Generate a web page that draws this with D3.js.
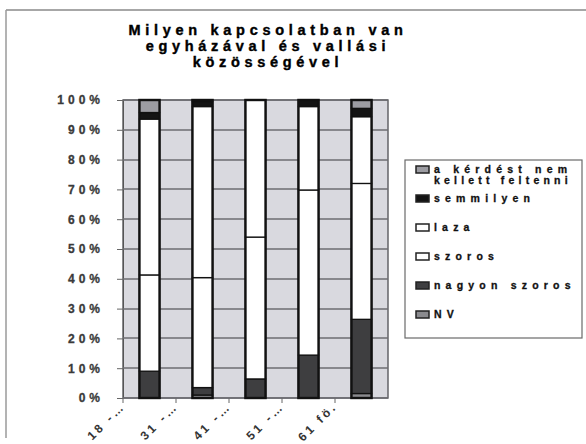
<!DOCTYPE html>
<html>
<head>
<meta charset="utf-8">
<script src="https://cdn.jsdelivr.net/npm/d3@7"></script>
<style>
  body { margin: 0; background: #fff; }
  text { font-family: "Liberation Sans", Arial, sans-serif; font-weight: bold; }
</style>
</head>
<body>
<svg id="sketch"></svg>
<script>
// age groups (labels are cut off in the original scan)
var categories = ["18 -…", "31 -…", "41 -…", "51 -…", "61 fö."];

// stacked series, bottom to top, in percent
var nv           = [0,    1,    0,    0,    1.5];
var nagyonSzoros = [9,    2.5,  6.4,  14.4, 24.9];
var szoros       = [32.3, 36.9, 47.6, 55.4, 45.6];
var laza         = [52.3, 57.4, 46,   28,   22.4];
var semmilyen    = [2.2,  1.7,  0,    2.2,  2.8];
var kerdes       = [4.2,  0.5,  0,    0,    2.8];

var seriesNames = ["NV", "nagyon szoros", "szoros", "laza", "semmilyen", "a kérdést nem kellett feltenni"];
var seriesValues = [nv, nagyonSzoros, szoros, laza, semmilyen, kerdes];
var seriesColors = ["#8a8a8e", "#3e3e40", "#ffffff", "#ffffff", "#141414", "#9c9ca2"];

var yTicks = [0, 10, 20, 30, 40, 50, 60, 70, 80, 90, 100];

var titleLines = ["Milyen kapcsolatban van", "egyházával és vallási", "közösségével"];

var svg = d3.select("#sketch").attr("width", 586).attr("height", 444);

// outer frame (only top and left survive in the scan)
svg.append("line").attr("x1", 6).attr("y1", 10).attr("x2", 586).attr("y2", 10)
    .attr("stroke", "#8a8a8a").attr("stroke-width", 1.5);
svg.append("line").attr("x1", 6).attr("y1", 10).attr("x2", 6).attr("y2", 438)
    .attr("stroke", "#9a9a9a").attr("stroke-width", 1.5);

// title
svg.append("g").selectAll("text")
    .data(titleLines)
    .enter().append("text")
    .attr("x", 268)
    .attr("y", function(d, i) { return 35 + i * 16; })
    .attr("text-anchor", "middle")
    .style("font-size", "14.5px")
    .style("letter-spacing", "4.7px")
    .style("stroke", "#000")
    .style("stroke-width", "0.4px")
    .text(function(d) { return d; });

var x = d3.scaleBand().domain(categories).range([123, 388]).paddingInner(0.62).paddingOuter(0.31);
var y = d3.scaleLinear().domain([0, 100]).range([398, 100]);

// plot area
svg.append("rect")
    .attr("x", 123).attr("y", 100).attr("width", 265).attr("height", 298)
    .attr("fill", "#d9d9df")
    .attr("stroke", "#5a5a5e").attr("stroke-width", 1.4);

// y axis
var yAxis = svg.append("g")
    .attr("transform", "translate(123,0)")
    .call(d3.axisLeft(y).tickValues(yTicks).tickSize(6).tickPadding(13)
        .tickFormat(function(d) { return d + "%"; }));
yAxis.select(".domain").attr("stroke", "#555");
yAxis.selectAll("line").attr("stroke", "#666");
yAxis.selectAll("text")
    .style("font-size", "12px")
    .style("letter-spacing", "4px")
    .style("stroke", "#3a3a3a")
    .style("stroke-width", "0.3px")
    .attr("fill", "#3a3a3a")
    .attr("font-family", null);

// x axis: ticks between categories
var gap = (x.step() - x.bandwidth()) / 2;
var xAxis = svg.append("g").attr("class", "xaxis");
xAxis.selectAll("line.xtick")
    .data(categories)
    .enter().append("line")
    .attr("class", "xtick")
    .attr("x1", function(d) { return x(d) - gap; })
    .attr("x2", function(d) { return x(d) - gap; })
    .attr("y1", 398).attr("y2", 403)
    .attr("stroke", "#666");
xAxis.selectAll("text")
    .data(categories)
    .enter().append("text")
    .attr("transform", function(d) { return "translate(" + (x(d) - gap + 3) + ",407) rotate(-45)"; })
    .attr("text-anchor", "end")
    .style("font-size", "12px")
    .style("letter-spacing", "3px")
    .attr("fill", "#333")
    .text(function(d) { return d; });

// legend
var legend = svg.append("g").attr("class", "legend");
legend.append("rect")
    .attr("x", 405).attr("y", 160).attr("width", 177).attr("height", 178)
    .attr("fill", "#fff").attr("stroke", "#6a6a6a").attr("stroke-width", 1.2);

var legendOrder = seriesNames.map(function(s, i) { return i; }).reverse();
var legendY = [173, 202, 231, 260, 289, 318];

var item = legend.selectAll("g.item")
    .data(legendOrder)
    .enter().append("g")
    .attr("class", "item")
    .attr("transform", function(d, i) { return "translate(416," + legendY[i] + ")"; });

item.append("rect")
    .attr("x", 0).attr("y", -7).attr("width", 13).attr("height", 7)
    .attr("fill", function(d) { return seriesColors[d]; })
    .attr("stroke", "#222").attr("stroke-width", 1.5);

item.each(function(d) {
    var name = seriesNames[d];
    var lines = name === "a kérdést nem kellett feltenni" ? ["a kérdést nem", "kellett feltenni"] : [name];
    d3.select(this).selectAll("text")
        .data(lines)
        .enter().append("text")
        .attr("x", 18)
        .attr("y", function(l, k) { return k * 10.5; })
        .style("font-size", "10.5px")
        .style("letter-spacing", function(l) { return l === "kellett feltenni" ? "4.2px" : "5.2px"; })
        .style("stroke", "#111")
        .style("stroke-width", "0.3px")
        .attr("fill", "#111")
        .text(function(l) { return l; });
});

// gridlines, drawn under the bars only
svg.append("g").attr("class", "grid").selectAll("line")
    .data(yTicks)
    .enter().append("line")
    .attr("x1", 123).attr("x2", 388)
    .attr("y1", function(d) { return Math.round(y(d)); })
    .attr("y2", function(d) { return Math.round(y(d)); })
    .attr("stroke", "#6c6c72").attr("stroke-width", 1.6);

// stacked bars
var rows = categories.map(function(c, i) {
    var r = { cat: c };
    seriesNames.forEach(function(s, j) { r[s] = seriesValues[j][i]; });
    return r;
});
var stacked = d3.stack().keys(seriesNames)(rows);

svg.append("g").attr("class", "bars").selectAll("g")
    .data(stacked)
    .enter().append("g")
    .attr("fill", function(d, i) { return seriesColors[i]; })
    .selectAll("rect")
    .data(function(d) { return d.filter(function(p) { return p[1] > p[0]; }); })
    .enter().append("rect")
    .attr("x", function(d) { return x(d.data.cat); })
    .attr("y", function(d) { return y(d[1]); })
    .attr("width", x.bandwidth())
    .attr("height", function(d) { return y(d[0]) - y(d[1]); })
    .attr("stroke", "#111")
    .attr("stroke-width", 1.3);

// bar outlines
svg.append("g").attr("class", "outlines").selectAll("rect")
    .data(categories)
    .enter().append("rect")
    .attr("x", function(d) { return x(d); })
    .attr("y", y(100))
    .attr("width", x.bandwidth())
    .attr("height", y(0) - y(100))
    .attr("fill", "none")
    .attr("stroke", "#111")
    .attr("stroke-width", 2.4);
</script>
</body>
</html>
